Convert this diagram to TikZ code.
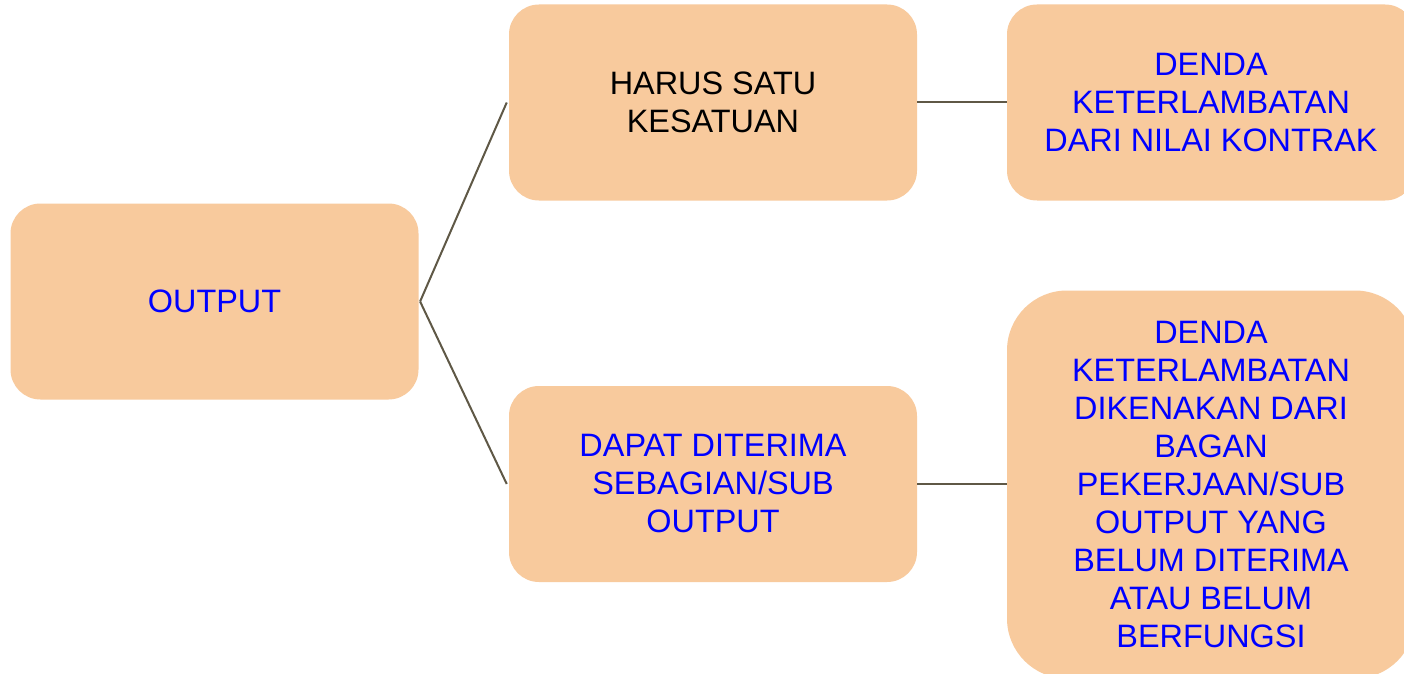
\documentclass[tikz,border=0pt]{standalone}
\usepackage{fontspec}
\setmainfont{Liberation Sans}
\definecolor{boxfill}{HTML}{F8CA9D}
\definecolor{linkcol}{HTML}{5F5846}
\definecolor{txtblue}{HTML}{0000FF}
\begin{document}
\begin{tikzpicture}[x=0.75pt,y=-0.75pt,
  card/.style={fill=boxfill, draw=none, rounded corners=22.5pt, inner sep=0pt,
    minimum width=306pt, minimum height=147pt, align=center,
    font=\fontsize{24.3pt}{28.5pt}\selectfont, text=txtblue},
  bigcard/.style={card, rounded corners=45pt, minimum height=291pt},
  link/.style={draw=linkcol, line width=1.5pt}]
\useasboundingbox (0,0) rectangle (1404,674);
\fill[white] (0,0) rectangle (1404,674);
\node[card] (out) at (214.5,301.5) {OUTPUT};
\node[card, text=black] (harus) at (713,102.5) {HARUS SATU\\KESATUAN};
\node[card] (dapat) at (713,484) {DAPAT DITERIMA\\SEBAGIAN/SUB\\OUTPUT};
\node[card] (denda1) at (1211,102.5) {DENDA\\KETERLAMBATAN\\DARI NILAI KONTRAK};
\node[bigcard] (denda2) at (1211,484.5) {DENDA\\KETERLAMBATAN\\DIKENAKAN DARI\\BAGAN\\PEKERJAAN/SUB\\OUTPUT YANG\\BELUM DITERIMA\\ATAU BELUM\\BERFUNGSI};
\draw[link] ([xshift=1pt]out.east) -- ([xshift=-1.5pt]harus.west);
\draw[link] ([xshift=1pt]out.east) -- ([xshift=-1.5pt]dapat.west);
\draw[link] (harus.east) -- (denda1.west |- harus.east);
\draw[link] (dapat.east) -- (denda2.west |- dapat.east);
\end{tikzpicture}
\end{document}
